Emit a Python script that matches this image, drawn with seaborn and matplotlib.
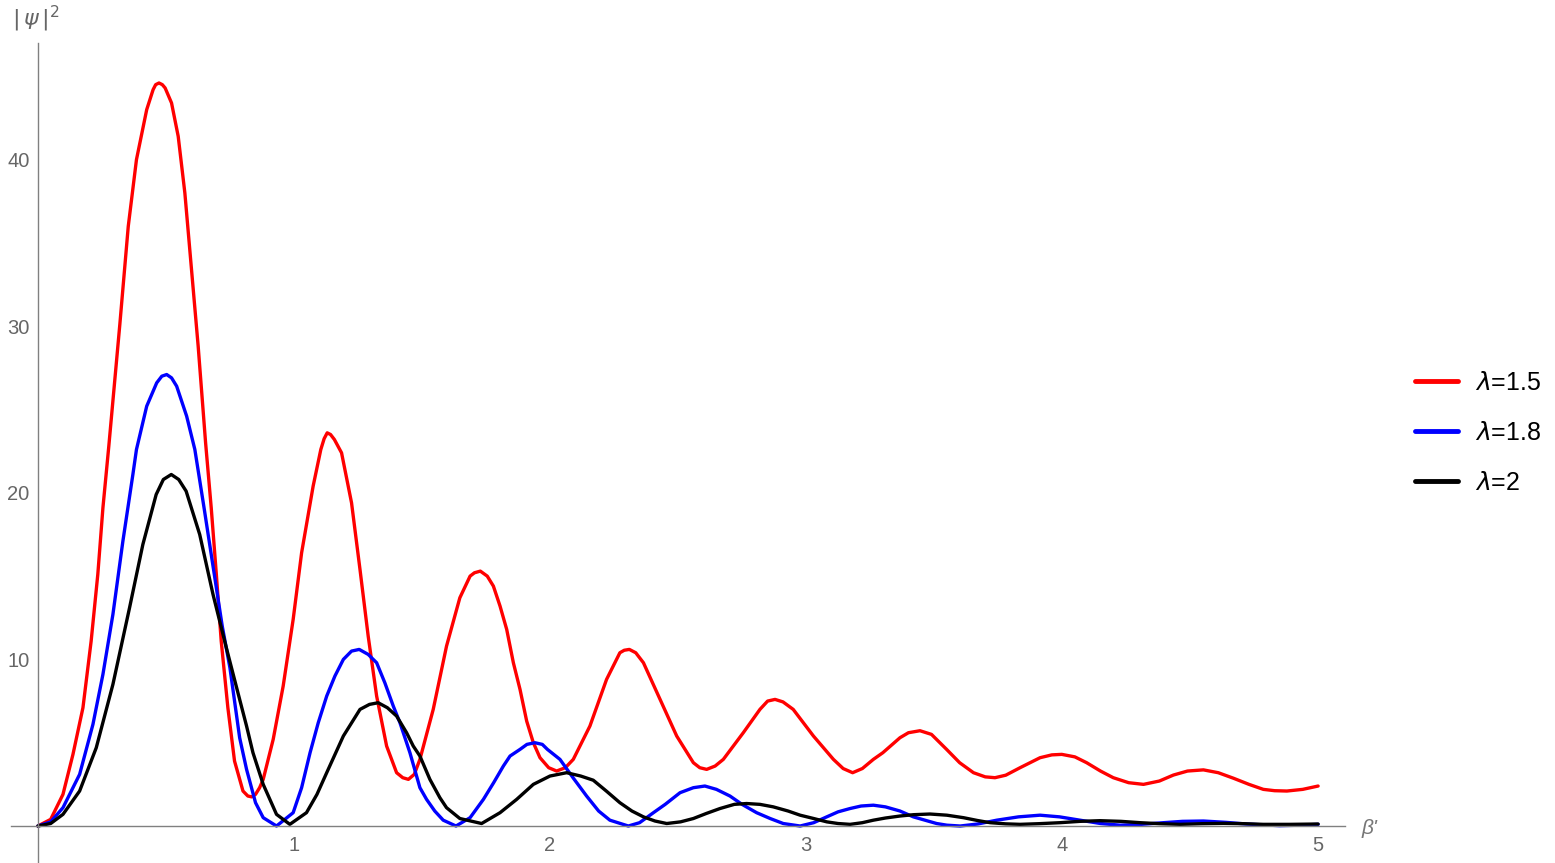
import pandas as pd
import numpy as np
import matplotlib.pyplot as plt
import matplotlib as mpl
import seaborn as sns

sns.set_style('white')
plt.rcParams['font.family'] = ['Liberation Sans', 'DejaVu Sans']
plt.rcParams['mathtext.fontset'] = 'dejavusans'

# values
red_x = [0.0, 0.05, 0.098, 0.137, 0.176, 0.208, 0.234, 0.254, 0.277, 0.32, 0.353, 0.385, 0.425, 0.45,
         0.46, 0.473, 0.486, 0.497, 0.522, 0.548, 0.574, 0.6, 0.626, 0.655, 0.677, 0.697, 0.716, 0.742,
         0.768, 0.801, 0.82, 0.835, 0.85, 0.866, 0.88, 0.919, 0.958, 0.997, 1.03, 1.075, 1.105, 1.118,
         1.13, 1.143, 1.158, 1.186, 1.225, 1.258, 1.29, 1.323, 1.362, 1.401, 1.425, 1.447, 1.47, 1.492,
         1.544, 1.596, 1.648, 1.688, 1.705, 1.728, 1.755, 1.779, 1.805, 1.831, 1.857, 1.883, 1.909, 1.935,
         1.961, 1.995, 2.026, 2.06, 2.091, 2.156, 2.221, 2.273, 2.29, 2.31, 2.335, 2.365, 2.43, 2.495,
         2.56, 2.585, 2.612, 2.645, 2.677, 2.755, 2.82, 2.85, 2.879, 2.91, 2.95, 3.029, 3.107, 3.145,
         3.182, 3.22, 3.263, 3.3, 3.367, 3.4, 3.445, 3.49, 3.549, 3.6, 3.654, 3.7, 3.738, 3.78,
         3.836, 3.914, 3.96, 3.999, 4.05, 4.096, 4.15, 4.2, 4.26, 4.318, 4.38, 4.435, 4.49, 4.552,
         4.61, 4.669, 4.73, 4.786, 4.83, 4.878, 4.94, 5.0]
red_y = [0.0, 0.4, 1.9, 4.3, 7.1, 11.1, 15.1, 19.1, 22.8, 30.1, 36.0, 40.0, 43.0, 44.2,
         44.5, 44.6, 44.5, 44.3, 43.4, 41.4, 38.0, 33.4, 28.8, 23.0, 19.1, 15.1, 11.1, 7.1,
         3.9, 2.1, 1.8, 1.75, 1.9, 2.3, 2.8, 5.2, 8.4, 12.4, 16.4, 20.4, 22.6, 23.25,
         23.6, 23.5, 23.2, 22.4, 19.4, 15.4, 11.4, 7.8, 4.8, 3.2, 2.9, 2.8, 3.1, 4.0,
         7.0, 10.8, 13.7, 15.0, 15.2, 15.3, 15.0, 14.4, 13.2, 11.8, 9.8, 8.2, 6.3, 5.0,
         4.1, 3.5, 3.3, 3.5, 4.0, 6.0, 8.8, 10.4, 10.55, 10.6, 10.4, 9.8, 7.6, 5.4,
         3.8, 3.5, 3.4, 3.6, 4.0, 5.6, 7.0, 7.5, 7.6, 7.45, 7.0, 5.4, 4.0, 3.45,
         3.2, 3.45, 4.0, 4.4, 5.3, 5.6, 5.72, 5.5, 4.6, 3.8, 3.2, 2.95, 2.9, 3.05,
         3.5, 4.1, 4.27, 4.3, 4.15, 3.8, 3.3, 2.9, 2.6, 2.5, 2.7, 3.06, 3.3, 3.37,
         3.2, 2.87, 2.5, 2.2, 2.12, 2.1, 2.2, 2.4]

blue_x = [0.0, 0.05, 0.098, 0.163, 0.215, 0.254, 0.293, 0.332, 0.371, 0.385, 0.425, 0.464, 0.484, 0.503,
          0.522, 0.542, 0.581, 0.613, 0.65, 0.69, 0.72, 0.75, 0.788, 0.815, 0.85, 0.88, 0.932, 0.997,
          1.03, 1.063, 1.095, 1.128, 1.16, 1.193, 1.225, 1.255, 1.29, 1.323, 1.355, 1.388, 1.414, 1.453,
          1.492, 1.518, 1.55, 1.583, 1.633, 1.688, 1.74, 1.78, 1.818, 1.844, 1.883, 1.91, 1.941, 1.97,
          1.99, 2.039, 2.09, 2.143, 2.19, 2.234, 2.306, 2.35, 2.404, 2.45, 2.508, 2.56, 2.605, 2.65,
          2.703, 2.75, 2.807, 2.86, 2.911, 2.977, 3.03, 3.081, 3.125, 3.172, 3.215, 3.263, 3.31, 3.367,
          3.419, 3.51, 3.55, 3.602, 3.67, 3.745, 3.83, 3.914, 3.99, 4.07, 4.15, 4.227, 4.31, 4.396,
          4.47, 4.552, 4.64, 4.72, 4.85, 4.93, 5.0]
blue_y = [0.0, 0.25, 1.1, 3.1, 6.1, 9.1, 12.7, 17.1, 21.1, 22.6, 25.2, 26.6, 27.0, 27.1,
          26.9, 26.4, 24.6, 22.6, 19.0, 15.0, 12.0, 9.5, 5.3, 3.4, 1.4, 0.5, 0.0, 0.8,
          2.3, 4.4, 6.2, 7.8, 9.0, 10.0, 10.5, 10.6, 10.3, 9.8, 8.6, 7.2, 6.2, 4.4,
          2.3, 1.6, 0.9, 0.35, 0.0, 0.5, 1.6, 2.6, 3.6, 4.2, 4.6, 4.9, 5.0, 4.9,
          4.6, 4.0, 2.9, 1.8, 0.9, 0.35, 0.0, 0.2, 0.8, 1.3, 2.0, 2.3, 2.4, 2.2,
          1.8, 1.3, 0.8, 0.45, 0.15, 0.0, 0.2, 0.55, 0.85, 1.05, 1.2, 1.25, 1.15, 0.9,
          0.55, 0.15, 0.05, 0.0, 0.12, 0.35, 0.55, 0.65, 0.55, 0.35, 0.15, 0.05, 0.1, 0.2,
          0.28, 0.3, 0.22, 0.12, 0.02, 0.05, 0.1]

black_x = [0.0, 0.05, 0.098, 0.163, 0.228, 0.293, 0.358, 0.41, 0.462, 0.49, 0.521, 0.55, 0.579, 0.632,
           0.684, 0.736, 0.788, 0.815, 0.84, 0.88, 0.932, 0.984, 1.049, 1.09, 1.128, 1.193, 1.258, 1.295,
           1.329, 1.365, 1.401, 1.44, 1.466, 1.492, 1.531, 1.57, 1.596, 1.648, 1.733, 1.805, 1.87, 1.935,
           2.0, 2.065, 2.12, 2.169, 2.22, 2.273, 2.32, 2.365, 2.41, 2.456, 2.51, 2.56, 2.61, 2.664,
           2.72, 2.768, 2.82, 2.872, 2.93, 2.977, 3.03, 3.081, 3.125, 3.172, 3.22, 3.263, 3.31, 3.367,
           3.42, 3.484, 3.55, 3.615, 3.67, 3.719, 3.78, 3.836, 3.91, 3.992, 4.07, 4.148, 4.23, 4.305,
           4.38, 4.461, 4.545, 4.63, 4.71, 4.786, 4.89, 5.0]
black_y = [0.0, 0.15, 0.7, 2.1, 4.7, 8.5, 13.1, 16.9, 19.9, 20.8, 21.1, 20.8, 20.1, 17.5,
           13.9, 10.7, 7.6, 6.0, 4.4, 2.5, 0.7, 0.1, 0.8, 1.9, 3.2, 5.4, 7.0, 7.3,
           7.4, 7.1, 6.6, 5.6, 4.8, 4.2, 2.8, 1.7, 1.1, 0.45, 0.15, 0.8, 1.6, 2.5,
           3.0, 3.2, 3.0, 2.75, 2.1, 1.4, 0.9, 0.55, 0.3, 0.15, 0.25, 0.45, 0.75, 1.05,
           1.3, 1.35, 1.3, 1.15, 0.9, 0.65, 0.45, 0.25, 0.15, 0.1, 0.2, 0.35, 0.48, 0.6,
           0.68, 0.72, 0.65, 0.5, 0.33, 0.2, 0.13, 0.1, 0.14, 0.2, 0.28, 0.32, 0.28, 0.2,
           0.14, 0.1, 0.14, 0.16, 0.14, 0.1, 0.1, 0.12]

labels = [r'$\lambda$=1.5', r'$\lambda$=1.8', r'$\lambda$=2']
colors = ['#ff0000', '#0000ff', '#000000']

df = pd.concat([
    pd.DataFrame({'beta': red_x, 'psi2': red_y, 'lam': labels[0]}),
    pd.DataFrame({'beta': blue_x, 'psi2': blue_y, 'lam': labels[1]}),
    pd.DataFrame({'beta': black_x, 'psi2': black_y, 'lam': labels[2]}),
], ignore_index=True)

fig = plt.figure(figsize=(15.55, 8.63), dpi=100)
ax = fig.add_axes([11/1555, 0, 1334/1555, 820/863])

sns.lineplot(data=df, x='beta', y='psi2', hue='lam', hue_order=labels, palette=colors,
             estimator=None, sort=False, linewidth=2.4, ax=ax)
for line in ax.get_lines():
    line.set_solid_joinstyle('round')

ax.set_xlim(-0.105, 5.105)
ax.set_ylim(-2.22, 47.0)

# mathematica style axes through the origin
for s in ['top', 'right']:
    ax.spines[s].set_visible(False)
ax.spines['left'].set_position(('data', 0))
ax.spines['bottom'].set_position(('data', 0))
for s in ['left', 'bottom']:
    ax.spines[s].set_color('#808080')
    ax.spines[s].set_linewidth(1.0)

ax.set_xticks([1, 2, 3, 4, 5])
ax.set_xticks(np.arange(0.2, 5.01, 0.2), minor=True)
ax.set_yticks([10, 20, 30, 40])
ax.set_yticks(np.arange(2, 47, 2), minor=True)
ax.tick_params(which='both', direction='in', color='#808080', labelcolor='#666666', labelsize=14.5)
ax.tick_params(which='major', length=4.3, width=0.8)
ax.tick_params(which='minor', length=2.9, width=0.8)
ax.tick_params(axis='x', pad=7)
ax.tick_params(axis='y', pad=6)
ax.set_xlabel('')
ax.set_ylabel('')

fig.text(12/1555, 1 - 19/863, r'$|\,\psi\,|^2$', color='#666666', fontsize=16, ha='left', va='center')
fig.text(1362/1555, 1 - 828/863, "β'", color='#777777', fontsize=15, style='italic', ha='left', va='center')

handles, _ = ax.get_legend_handles_labels()
leg = ax.legend(handles, labels, loc='center left', bbox_to_anchor=(1415/1555, 1 - 433/863),
                bbox_transform=fig.transFigure, frameon=False, fontsize=18, handlelength=1.72,
                handletextpad=0.68, labelspacing=1.04, borderpad=0, borderaxespad=0)
for line in leg.get_lines():
    line.set_linewidth(3.5)
for t in leg.get_texts():
    t.set_color('black')

fig.savefig('out.png', dpi=100)
